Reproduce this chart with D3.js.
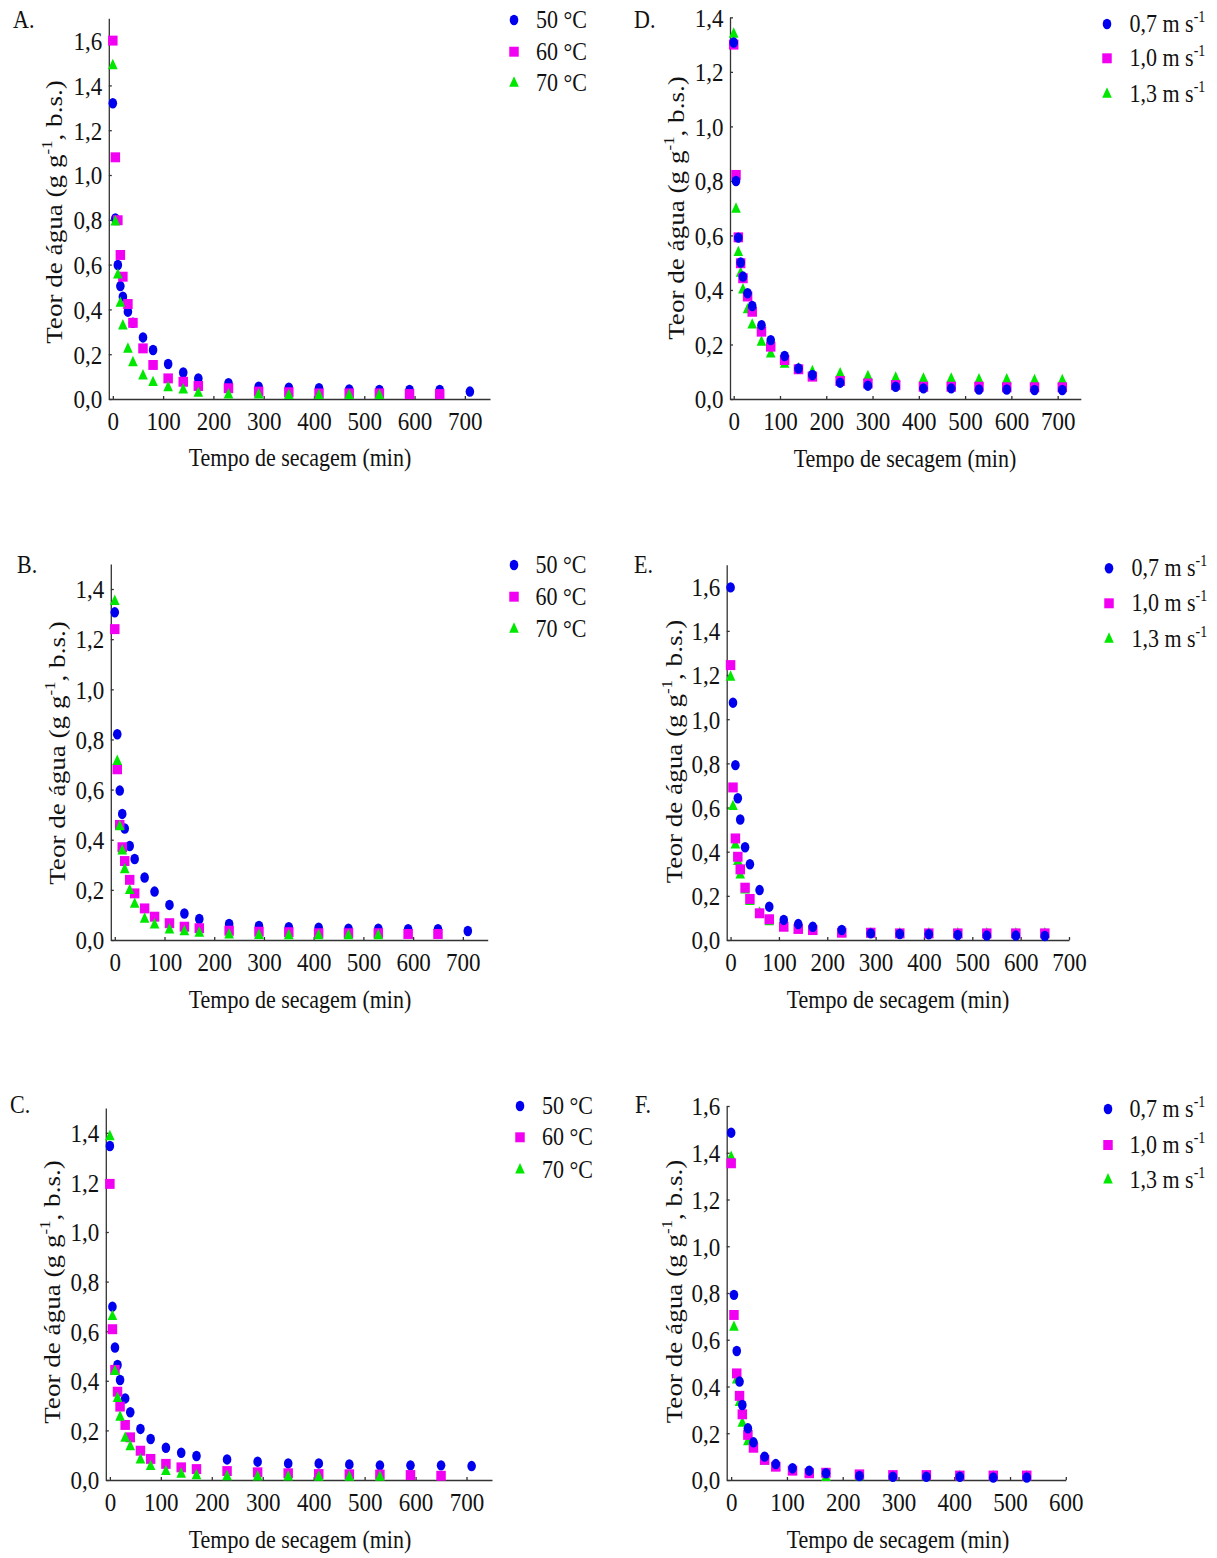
<!DOCTYPE html>
<html>
<head>
<meta charset="utf-8">
<title>Teor de água x tempo de secagem</title>
<script src="https://d3js.org/d3.v7.min.js"></script>
<style>
body { margin: 0; background: #fff; }
svg { display: block; font-family: "Liberation Serif", "Times New Roman", serif; }
.axis path, .axis line { stroke: #333; stroke-width: 1.3px; }
</style>
</head>
<body>
<script>

var SY = 1.13;   // the figure is slightly stretched vertically

// drying times (min)
var tempo = [0, 5, 10, 15, 20, 30, 40, 60, 80, 110, 140, 170, 230, 290, 350, 410, 470, 530, 590, 650, 710];

// A.
var a50 = [1.32, 0.806, 0.598, 0.504, 0.457, 0.39, 0.34, 0.275, 0.219, 0.156, 0.118, 0.092, 0.07, 0.055, 0.05, 0.048, 0.043, 0.04, 0.04, 0.04, 0.033];
var a60 = [1.60, 1.079, 0.798, 0.643, 0.546, 0.424, 0.34, 0.226, 0.152, 0.092, 0.077, 0.058, 0.048, 0.033, 0.03, 0.025, 0.025, 0.025, 0.022, 0.022];
var a70 = [1.488, 0.79, 0.553, 0.427, 0.326, 0.222, 0.162, 0.103, 0.073, 0.05, 0.04, 0.025, 0.018, 0.018, 0.015, 0.015, 0.015, 0.015];
// B.
var b50 = [1.307, 0.821, 0.596, 0.503, 0.445, 0.375, 0.323, 0.249, 0.193, 0.14, 0.106, 0.084, 0.064, 0.056, 0.051, 0.049, 0.045, 0.045, 0.043, 0.043, 0.036];
var b60 = [1.24, 0.681, 0.459, 0.37, 0.315, 0.24, 0.186, 0.126, 0.093, 0.067, 0.053, 0.047, 0.037, 0.033, 0.031, 0.027, 0.027, 0.027, 0.024, 0.024];
var b70 = [1.35, 0.712, 0.452, 0.355, 0.28, 0.197, 0.142, 0.083, 0.06, 0.04, 0.033, 0.027, 0.02, 0.018, 0.017, 0.017, 0.017, 0.017];
// C.
var c50 = [1.347, 0.699, 0.534, 0.464, 0.403, 0.329, 0.273, 0.206, 0.165, 0.13, 0.11, 0.097, 0.083, 0.074, 0.067, 0.067, 0.063, 0.059, 0.059, 0.059, 0.056];
var c60 = [1.194, 0.608, 0.444, 0.356, 0.296, 0.222, 0.172, 0.118, 0.085, 0.065, 0.051, 0.044, 0.036, 0.031, 0.027, 0.024, 0.023, 0.022, 0.02, 0.017];
var c70 = [1.384, 0.659, 0.437, 0.329, 0.253, 0.168, 0.134, 0.081, 0.054, 0.034, 0.023, 0.017, 0.013, 0.012, 0.012, 0.011, 0.011, 0.011];
// D.
var d07 = [1.308, 0.80, 0.592, 0.501, 0.449, 0.388, 0.341, 0.271, 0.216, 0.158, 0.112, 0.088, 0.06, 0.049, 0.045, 0.039, 0.039, 0.035, 0.035, 0.033, 0.033];
var d10 = [1.30, 0.822, 0.593, 0.498, 0.443, 0.376, 0.32, 0.247, 0.192, 0.143, 0.109, 0.082, 0.066, 0.057, 0.051, 0.045, 0.045, 0.045, 0.043, 0.043, 0.043];
var d13 = [1.338, 0.696, 0.537, 0.461, 0.40, 0.327, 0.271, 0.208, 0.165, 0.127, 0.11, 0.1, 0.092, 0.082, 0.076, 0.073, 0.073, 0.07, 0.07, 0.067, 0.067];
// E.
var e07 = [1.597, 1.075, 0.792, 0.642, 0.546, 0.42, 0.343, 0.226, 0.151, 0.091, 0.072, 0.06, 0.045, 0.03, 0.027, 0.026, 0.023, 0.02, 0.02, 0.018];
var e10 = [1.245, 0.691, 0.46, 0.377, 0.32, 0.237, 0.186, 0.121, 0.094, 0.06, 0.05, 0.045, 0.033, 0.033, 0.03, 0.03, 0.03, 0.03, 0.03, 0.03];
var e13 = [1.19, 0.604, 0.43, 0.355, 0.294, 0.226, 0.174, 0.121, 0.083, 0.057, 0.048, 0.042, 0.033, 0.027, 0.027, 0.027, 0.027, 0.027, 0.027, 0.027];
// F.
var f07 = [1.486, 0.792, 0.552, 0.421, 0.321, 0.221, 0.161, 0.1, 0.068, 0.05, 0.04, 0.029, 0.017, 0.014, 0.014, 0.014, 0.011, 0.011];
var f10 = [1.355, 0.706, 0.456, 0.36, 0.281, 0.193, 0.138, 0.086, 0.057, 0.04, 0.029, 0.031, 0.024, 0.021, 0.021, 0.019, 0.019, 0.019];
var f13 = [1.38, 0.653, 0.428, 0.331, 0.243, 0.164, 0.136, 0.081, 0.057, 0.036, 0.029, 0.011, 0.014, 0.014, 0.014, 0.014, 0.014, 0.014];

var legTemp = ["50 °C", "60 °C", "70 °C"];
var legVel = ["0,7", "1,0", "1,3"];

var cores = ["#0000ee", "#f200f2", "#00e800"];
var simbolos = [d3.symbolCircle, d3.symbolSquare, d3.symbolTriangle];
var tamanhos = [58, 90, 40];
var esticar = [1.22, 1.05, 1.25];   // vertical stretch of each marker

// panel layout (pixel frames)
var paineis = [
  {id: "A.", series: [a50, a60, a70], leg: legTemp, vel: false, ordem: [0, 1, 2],
   xd: [-8, 750], xr: [108.8, 490], xt: 700, yb: 399, ppu: 224, ymax: 1.7, yt: 1.6,
   lab: [13, 28], lg: {mx: 514, tx: 536, y: [20, 51.7, 83.3]}, ytit: [61.5, 212], xtit: [300, 466]},
  {id: "B.", series: [b50, b60, b70], leg: legTemp, vel: false, ordem: [0, 1, 2],
   xd: [-8, 750], xr: [110.8, 487.7], xt: 700, yb: 940, ppu: 250.7, ymax: 1.5, yt: 1.4,
   lab: [17, 573], lg: {mx: 514, tx: 535.5, y: [565, 596.7, 629.3]}, ytit: [65, 753], xtit: [300, 1008]},
  {id: "C.", series: [c50, c60, c70], leg: legTemp, vel: false, ordem: [0, 1, 2],
   xd: [-8, 750], xr: [105.8, 492], xt: 700, yb: 1480, ppu: 248, ymax: 1.5, yt: 1.4,
   lab: [10, 1113], lg: {mx: 520, tx: 542, y: [1106, 1137.3, 1170]}, ytit: [59.6, 1292], xtit: [300, 1548]},
  {id: "D.", series: [d07, d10, d13], leg: legVel, vel: true, ordem: [2, 1, 0],
   xd: [-8, 750], xr: [730, 1080.8], xt: 700, yb: 399, ppu: 272.6, ymax: 1.4, yt: 1.4,
   lab: [634, 28], lg: {mx: 1107, tx: 1129.5, y: [24, 58.3, 94.3]}, ytit: [684, 208], xtit: [905, 466.5]},
  {id: "E.", series: [e07, e10, e13], leg: legVel, vel: true, ordem: [2, 1, 0],
   xd: [-8, 700], xr: [726.7, 1069], xt: 700, yb: 940, ppu: 220.8, ymax: 1.7, yt: 1.6,
   lab: [634, 573], lg: {mx: 1109, tx: 1131.4, y: [568.3, 603.3, 639.3]}, ytit: [682, 751.5], xtit: [898, 1008]},
  {id: "F.", series: [f07, f10, f13], leg: legVel, vel: true, ordem: [2, 1, 0],
   xd: [-8, 600], xr: [726.7, 1065.8], xt: 600, yb: 1480, ppu: 233.75, ymax: 1.6, yt: 1.6,
   lab: [635, 1113], lg: {mx: 1108, tx: 1129.5, y: [1109, 1145, 1180]}, ytit: [682, 1291.5], xtit: [898, 1548]}
];

var width = 1217, height = 1558;
var svg = d3.select("body").append("svg")
    .attr("width", width)
    .attr("height", height);

var fmtY = function(d) { return d3.format(".1f")(d).replace(".", ","); };

function texto(g, x, y, s, size, anchor) {
  return g.append("text")
      .attr("transform", "translate(" + x + "," + y + ") scale(1," + SY + ")")
      .attr("font-size", size)
      .attr("text-anchor", anchor || "start")
      .attr("fill", "#111")
      .text(s);
}

function marcador(g, k, x, y) {
  g.append("path")
      .attr("d", d3.symbol().type(simbolos[k]).size(tamanhos[k])())
      .attr("transform", "translate(" + x + "," + y + ") scale(1," + esticar[k] + ")")
      .attr("fill", cores[k]);
}

paineis.forEach(function(p) {
  var g = svg.append("g");

  var x = d3.scaleLinear().domain(p.xd).range(p.xr);
  var y = d3.scaleLinear().domain([0, p.ymax]).range([p.yb, p.yb - p.ymax * p.ppu]);

  // axes, ticks point inward
  var yTicks = d3.range(0, p.yt + 0.001, 0.2);
  var xTicks = d3.range(0, p.xt + 1, 100);

  var ax = g.append("g").attr("class", "axis")
      .attr("transform", "translate(" + p.xr[0] + ",0)")
      .call(d3.axisLeft(y).tickValues(yTicks).tickFormat(fmtY).tickSizeInner(-3).tickSizeOuter(0));
  ax.selectAll("text")
      .attr("x", 0).attr("dy", 0)
      .attr("transform", "translate(-6.5,8.8) scale(1," + SY + ")")
      .attr("font-size", 23).attr("fill", "#111");

  var bx = g.append("g").attr("class", "axis")
      .attr("transform", "translate(0," + p.yb + ")")
      .call(d3.axisBottom(x).tickValues(xTicks).tickFormat(d3.format("d")).tickSizeInner(-3).tickSizeOuter(0));
  bx.selectAll("text")
      .attr("y", 0).attr("dy", 0)
      .attr("transform", "translate(0,31) scale(1," + SY + ")")
      .attr("font-size", 23).attr("fill", "#111");
  g.selectAll(".axis").attr("font-family", null);

  // points
  p.ordem.forEach(function(k) {
    var vals = p.series[k];
    g.append("g").selectAll("path")
      .data(vals.map(function(v, i) { return [tempo[i], v]; }))
      .enter().append("path")
        .attr("d", d3.symbol().type(simbolos[k]).size(tamanhos[k])())
        .attr("transform", function(d) {
          return "translate(" + x(d[0]) + "," + y(d[1]) + ") scale(1," + esticar[k] + ")";
        })
        .attr("fill", cores[k]);
  });

  // panel letter
  texto(g, p.lab[0], p.lab[1], p.id, 22);

  // legend
  p.leg.forEach(function(s, k) {
    var ly = p.lg.y[k];
    marcador(g, k, p.lg.mx, ly);
    var t = texto(g, p.lg.tx, ly + 8, p.vel ? null : s, 22);
    if (p.vel) {
      t.append("tspan").text(s + " m s");
      t.append("tspan").attr("font-size", 14).attr("dy", -9).text("-1");
    }
  });

  // axis titles
  texto(g, p.xtit[0], p.xtit[1], "Tempo de secagem (min)", 22, "middle");

  var yt = g.append("text")
      .attr("transform", "translate(" + p.ytit[0] + "," + p.ytit[1] + ") scale(1," + SY + ") rotate(-90)")
      .attr("font-size", 24)
      .attr("text-anchor", "middle")
      .attr("fill", "#111");
  yt.append("tspan").text("Teor de água (g g");
  yt.append("tspan").attr("font-size", 15).attr("dy", -10).text("-1");
  yt.append("tspan").attr("dy", 10).text(", b.s.)");
});

</script>
</body>
</html>
